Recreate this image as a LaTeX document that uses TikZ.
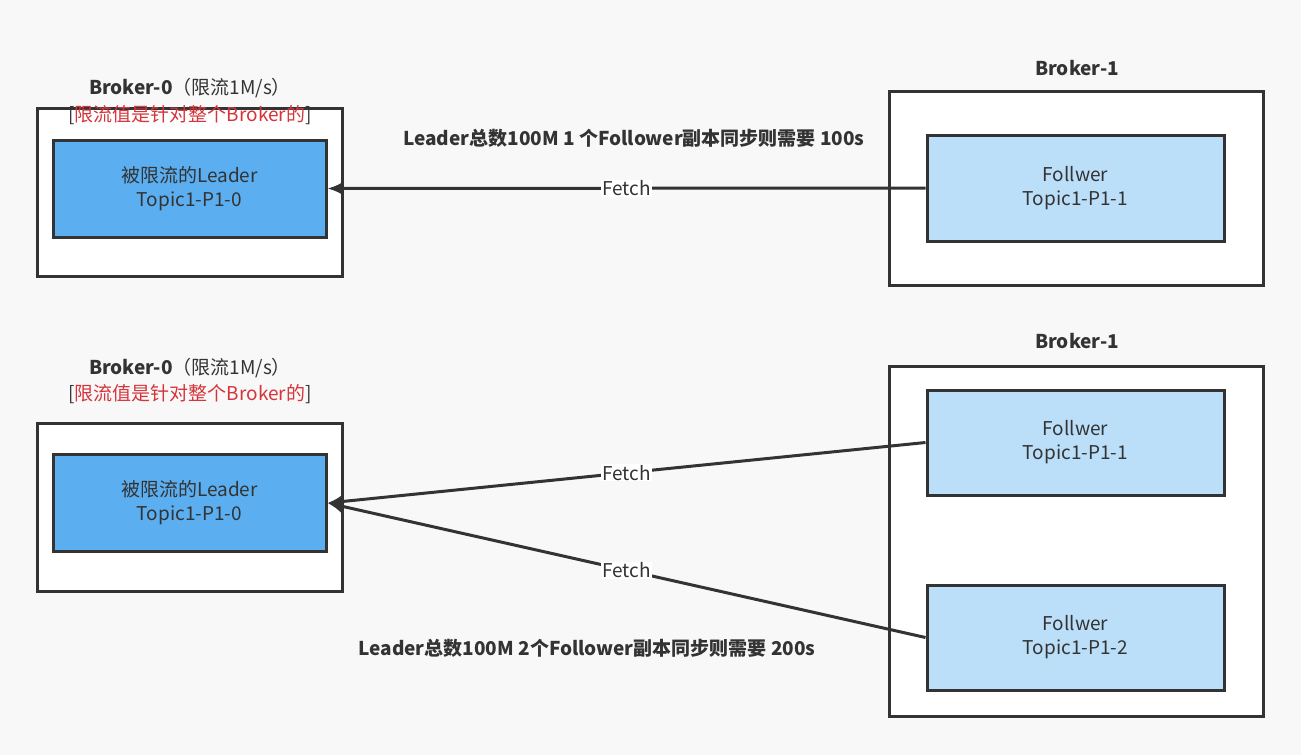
\documentclass[tikz,border=0pt]{standalone}
\usepackage{fontspec}
\setmainfont{Noto Sans CJK SC}
\usetikzlibrary{arrows.meta}
\definecolor{linegray}{HTML}{333333}
\definecolor{leaderblue}{HTML}{5BAEF0}
\definecolor{followerblue}{HTML}{BBDEF9}
\definecolor{notered}{HTML}{D5343A}
\definecolor{bggray}{HTML}{F8F8F8}

\begin{document}
\begin{tikzpicture}[x=1pt, y=-1pt, font=\fontsize{19}{24}\selectfont, text=linegray,
    broker/.style 2 args={draw=linegray, line width=3pt, fill=white, minimum width=#1, minimum height=#2},
    leader/.style={draw=linegray, line width=3pt, fill=leaderblue, minimum width=273, minimum height=97, align=center},
    follower/.style={draw=linegray, line width=3pt, fill=followerblue, minimum width=297, minimum height=#1, align=center},
    fetch/.style={draw=linegray, line width=3pt, -{Latex[length=16pt,width=14pt]}},
    fetchlbl/.style={fill=white, inner sep=1pt, font=\fontsize{19}{22}\selectfont}]
  \fill [bggray] (0,0) rectangle (1301,755);

  % upper case: one follower
  \node [broker={305}{168}] (b0a) at (189.5,192) {};
  \node [leader] (l0) at (189.5,188.5) {被限流的Leader\\Topic1-P1-0};
  \node (b0atitle) at (190,88) {\textbf{Broker-0}（限流1M/s）};
  \node (b0anote) at (190,115) {{[}\textcolor{notered}{限流值是针对整个Broker的}{]}};
  \node [broker={374}{194}] (b1a) at (1076,188) {};
  \node [follower=106] (f0) at (1075.5,188) {Follwer\\Topic1-P1-1};
  \node (b1atitle) at (1077,68) {\textbf{Broker-1}};
  \draw [fetch] (f0.west) -- (l0.east) node [midway, fetchlbl] (fetch0) {Fetch};
  \node (sum1) at (634,138) {\textbf{Leader总数100M 1 个Follower副本同步则需要 100s}};

  % lower case: two followers
  \node [broker={305}{168}] (b0b) at (189.5,507) {};
  \node [leader] (l1) at (189.5,503) {被限流的Leader\\Topic1-P1-0};
  \node (b0btitle) at (190,368) {\textbf{Broker-0}（限流1M/s）};
  \node (b0bnote) at (190,394) {{[}\textcolor{notered}{限流值是针对整个Broker的}{]}};
  \node [broker={374}{350}] (b1b) at (1076,541) {};
  \node [follower=105] (f1) at (1075.5,442.5) {Follwer\\Topic1-P1-1};
  \node [follower=105] (f2) at (1075.5,637.5) {Follwer\\Topic1-P1-2};
  \node (b1btitle) at (1077,341) {\textbf{Broker-1}};
  \draw [fetch] (f1.west) -- (l1.east) node [midway, fetchlbl] (fetch1) {Fetch};
  \draw [fetch] (f2.west) -- (l1.east) node [midway, fetchlbl] (fetch2) {Fetch};
  \node (sum2) at (587,648) {\textbf{Leader总数100M 2个Follower副本同步则需要 200s}};
\end{tikzpicture}
\end{document}
